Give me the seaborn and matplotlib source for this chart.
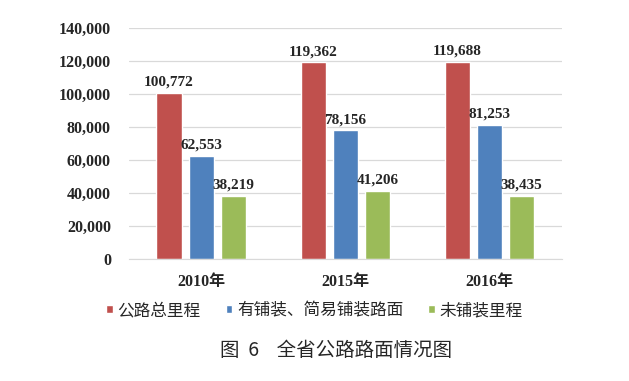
import pandas as pd
import matplotlib
matplotlib.use("Agg")
import matplotlib.pyplot as plt
import seaborn as sns

years = ["2010年", "2015年", "2016年"]
series = ["公路总里程", "有铺装、简易铺装路面", "未铺装里程"]
total_km = [100772, 119362, 119688]
paved_km = [62553, 78156, 81253]
unpaved_km = [38219, 41206, 38435]
colors = ["#C0504D", "#4F81BD", "#9BBB59"]

rows = []
for name, vals in zip(series, [total_km, paved_km, unpaved_km]):
    for y, v in zip(years, vals):
        rows.append({"year": y, "series": name, "km": v})
df = pd.DataFrame(rows)

sns.set_style("white")
plt.rcParams['font.family'] = ['Liberation Serif', 'Noto Sans CJK SC']

fig = plt.figure(figsize=(6.29, 3.81), dpi=100)
ax = fig.add_axes([0.205, 0.320, 0.688, 0.606])

sns.barplot(data=df, x="year", y="km", hue="series", palette=colors,
            width=0.667, gap=0.22, saturation=1, ax=ax, legend=True)

for cont in ax.containers:
    ax.bar_label(cont, labels=[f"{int(b.get_height()):,}" for b in cont],
                 padding=3, fontsize=11, fontweight="bold",
                 family=['Liberation Serif', 'Noto Sans CJK SC'])

ax.set_ylim(0, 140000)
ax.set_yticks(range(0, 140001, 20000))
ax.set_yticklabels([f"{t:,}" for t in range(0, 140001, 20000)])
ax.set_xlim(-0.5, 2.5)
ax.set_xlabel("")
ax.set_ylabel("")
ax.grid(axis="y", color="#D9D9D9", linewidth=0.9)
ax.set_axisbelow(True)
for s in ["top", "right", "left"]:
    ax.spines[s].set_visible(False)
ax.spines["bottom"].set_color("#D9D9D9")
ax.tick_params(axis="both", length=0)
ax.tick_params(axis="y", pad=13)
ax.tick_params(axis="x", pad=11)
for lab in ax.get_yticklabels() + ax.get_xticklabels():
    lab.set_fontweight("bold")
    lab.set_fontsize(11.5)

handles, labels = ax.get_legend_handles_labels()
ax.get_legend().remove()
fig.legend(handles, labels, loc="center", bbox_to_anchor=(0.50, 0.185), ncol=3,
           frameon=False, handlelength=0.38, handleheight=0.38, handletextpad=0.3,
           columnspacing=1.5, prop={"family": ["Noto Sans CJK SC"], "size": 12})

fig.text(0.535, 0.081, "图  6    全省公路路面情况图", ha="center", va="center",
         fontsize=14, family=["Noto Sans CJK SC", "DejaVu Sans"])

fig.savefig("out.png", dpi=100)
